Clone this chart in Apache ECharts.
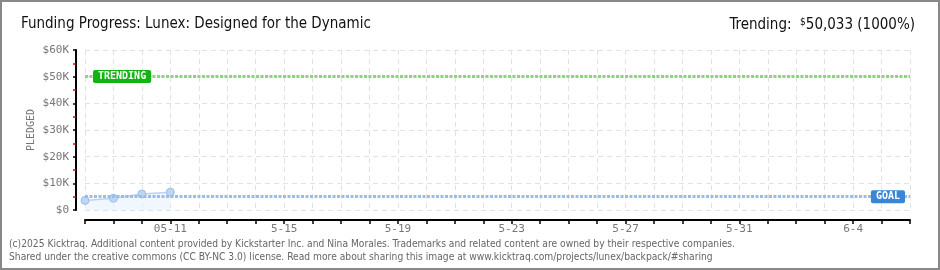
<!DOCTYPE html>
<html><head><meta charset="utf-8">
<script src="https://cdn.jsdelivr.net/npm/echarts@6/dist/echarts.min.js"></script>
<style>
html,body{margin:0;padding:0;background:#fff;}
#wrap{position:relative;width:940px;height:270px;box-sizing:border-box;border:2px solid #888;}
#chart{position:absolute;left:-2px;top:-2px;width:940px;height:270px;}
</style></head>
<body><div id="wrap"><div id="chart"></div></div>
<script>
const titleText = "Funding Progress: Lunex: Designed for the Dynamic";
const trendingText = "Trending:";
const trendingValue = "$50,033 (1000%)";
const footer1 = "(c)2025 Kicktraq. Additional content provided by Kickstarter Inc. and Nina Morales. Trademarks and related content are owned by their respective companies.";
const footer2 = "Shared under the creative commons (CC BY-NC 3.0) license. Read more about sharing this image at www.kicktraq.com/projects/lunex/backpack/#sharing";
const dates = ["5-8","5-9","5-10","05-11","5-12","5-13","5-14","5-15","5-16","5-17","5-18","5-19","5-20","5-21","5-22","5-23","5-24","5-25","5-26","5-27","5-28","5-29","5-30","5-31","6-1","6-2","6-3","6-4","6-5","6-6"];
const pledged = [3600, 4400, 6000, 6700];
const goal = 5000;
const trending = 50033;
const yTicks = [0, 10000, 20000, 30000, 40000, 50000, 60000];

const chart = echarts.init(document.getElementById('chart'));
const pixFont = '"DejaVu Sans Mono", monospace';
const narrow = '"Liberation Sans Narrow", "DejaVu Sans Condensed", sans-serif';
chart.setOption({
  animation: false,
  grid: {left: 85, right: 30, top: 50, bottom: 60},
  title: [
    {text: titleText, left: 16, top: 12, textStyle: {fontFamily: narrow, fontSize: 15, fontWeight: 'normal', color: '#111'}},
    {text: '{a|' + trendingText + '  }{s|$}{b|' + trendingValue.slice(1) + '}', right: 20, top: 12,
     textStyle: {fontWeight: 'normal', rich: {
       a: {fontFamily: narrow, fontSize: 15, fontWeight: 'normal', color: '#111'},
       s: {fontFamily: narrow, fontSize: 10, fontWeight: 'normal', color: '#111', verticalAlign: 'top', padding: [0,0,6,0]},
       b: {fontFamily: narrow, fontSize: 15, fontWeight: 'normal', color: '#111'}}}},
    {text: footer1 + '\n' + footer2, left: 4, top: 233, textStyle: {fontFamily: '"DejaVu Sans Condensed", sans-serif', fontSize: 10.2, fontWeight: 'normal', color: '#666', lineHeight: 13}}
  ],
  xAxis: {
    type: 'category', data: dates, boundaryGap: false, offset: 10,
    axisLine: {onZero: false, lineStyle: {color: '#000', width: 2}},
    axisTick: {show: true, interval: 0, length: 4, lineStyle: {color: '#000', width: 1.5}},
    axisLabel: {interval: (i) => (i - 3) % 4 === 0, color: '#777', fontFamily: pixFont, fontSize: 11, margin: 4},
    splitLine: {show: true, interval: 0, lineStyle: {color: '#e2e2e2', type: [5, 4]}}
  },
  yAxis: {
    type: 'value', min: 0, max: 60000, interval: 10000, offset: 9,
    name: 'PLEDGED', nameLocation: 'middle', nameGap: 40, nameRotate: 90, nameMoveOverlap: false,
    nameTextStyle: {color: '#777', fontFamily: pixFont, fontSize: 10},
    axisLine: {show: true, onZero: false, lineStyle: {color: '#000', width: 2}},
    axisTick: {show: true, length: 3, lineStyle: {color: '#000', width: 1.5}},
    minorTick: {show: true, splitNumber: 2, length: 3, lineStyle: {color: '#e00', width: 1.5}},
    axisLabel: {color: '#777', fontFamily: pixFont, fontSize: 11, margin: 7,
      formatter: (v) => '$' + (v === 0 ? '0' : (v / 1000) + 'K')},
    splitLine: {show: true, lineStyle: {color: '#e2e2e2', type: [5, 4]}}
  },
  series: [{
    type: 'line', data: pledged, symbol: 'circle', symbolSize: 8,
    itemStyle: {color: '#bcd7f5', borderColor: '#9cbde6', borderWidth: 1},
    lineStyle: {color: '#b8d3f2', width: 1.5},
    areaStyle: {color: '#eaf3fd'},
    markLine: {
      silent: true, symbol: 'none', label: {show: false},
      data: [
        {yAxis: trending, lineStyle: {color: '#8cd480', type: [3, 1.5], width: 3}},
        {yAxis: goal, lineStyle: {color: '#98bde6', type: [3, 1.5], width: 3}}
      ]
    },
    markPoint: {
      symbol: 'rect', symbolSize: 0, silent: true,
      data: [
        {coord: [dates[0], trending], value: 'TRENDING',
         label: {show: true, position: 'right', distance: 8, formatter: 'TRENDING', color: '#fff', fontFamily: pixFont, fontSize: 10, fontWeight: 'bold',
           backgroundColor: '#13b313', borderRadius: 2, padding: [2, 5, 1, 5]}},
        {coord: [dates[dates.length - 1], goal], value: 'GOAL',
         label: {show: true, position: 'left', distance: 5, formatter: 'GOAL', color: '#fff', fontFamily: pixFont, fontSize: 10, fontWeight: 'bold',
           backgroundColor: '#3a86d4', borderRadius: 2, padding: [2, 5, 1, 5]}}
      ]
    }
  }]
});
</script></body></html>
